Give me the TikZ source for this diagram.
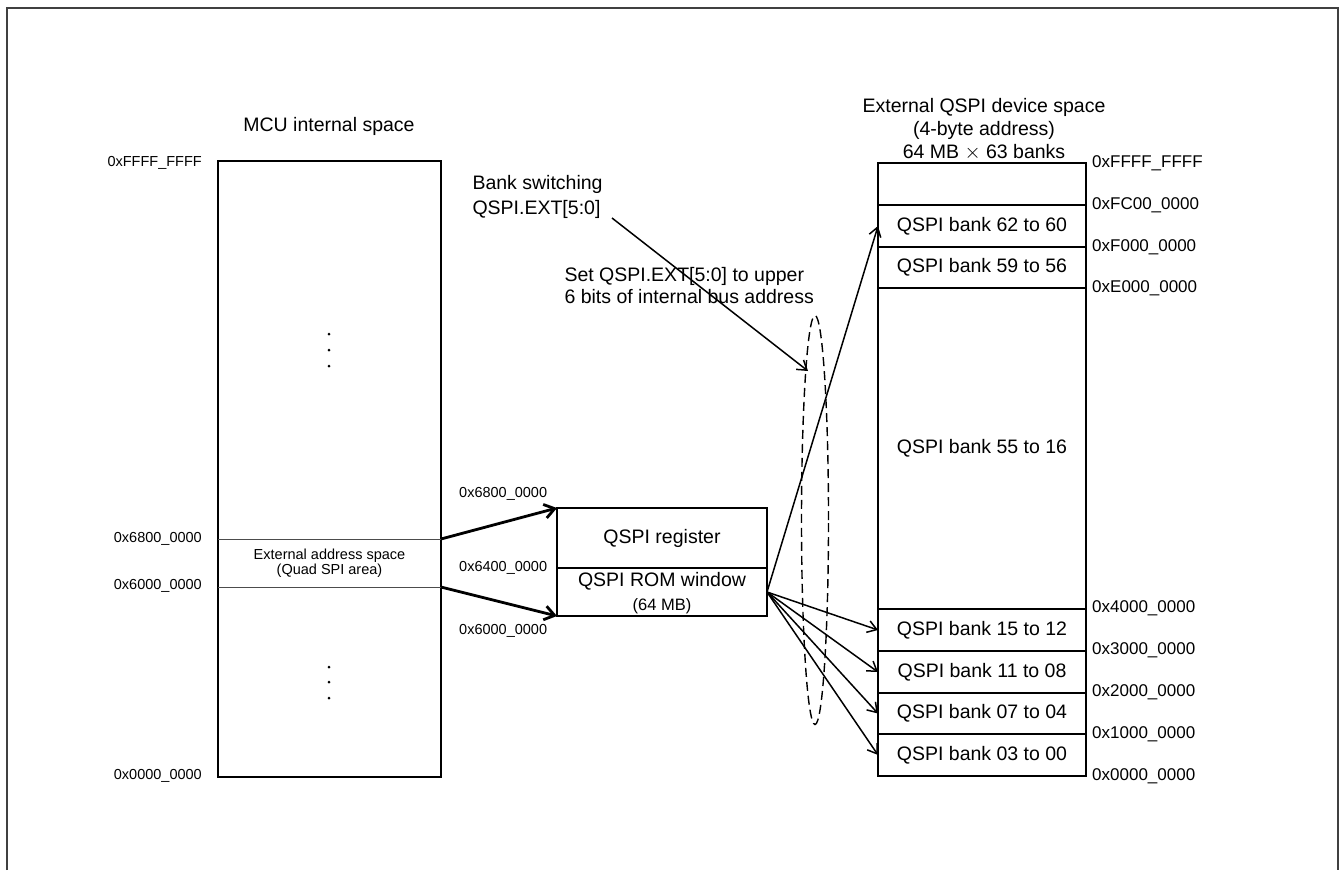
\documentclass[tikz,border=0pt]{standalone}
\usepackage{fontspec}
\setmainfont{Liberation Sans}
\usetikzlibrary{arrows.meta,shapes.geometric}
\begin{document}
\begin{tikzpicture}[x=1pt,y=-1pt,
  box/.style={draw, line width=1.8pt, inner sep=0pt, outer sep=0pt},
  bigtxt/.style={font=\fontsize{19.5}{22}\selectfont},
  addr/.style={font=\fontsize{14.5}{17}\selectfont, inner sep=0pt},
  raddr/.style={font=\fontsize{17}{20}\selectfont, anchor=west, inner sep=0pt},
  bank/.style={box, minimum width=208pt, font=\fontsize{19.5}{22}\selectfont},
  thinarrow/.style={-{Straight Barb[length=9pt,width=12pt]}, line width=1.5pt},
  thickarrow/.style={-{Straight Barb[length=10pt,width=14pt]}, line width=2.8pt},
  divline/.style={line width=1pt, black!70},
  dotmark/.style={fill=black}
]
\useasboundingbox (0,0) rectangle (1340,870);
% frame
\draw[line width=2pt, black!75] (7,870) -- (7,8) -- (1338,8) -- (1338,870);

% MCU internal space
\node[bigtxt] (mcutitle) at (329,126) {MCU internal space};
\node[box, minimum width=223pt, minimum height=616pt] (mcu) at (329.5,469) {};
\node[inner sep=0pt, outer sep=0pt, minimum width=223pt, minimum height=48pt, align=center,
      font=\fontsize{14.5}{15}\selectfont] (ext) at (329.5,563) {External address space\\(Quad SPI area)};
\draw[divline] (ext.north west) -- (ext.north east);
\draw[divline] (ext.south west) -- (ext.south east);
\fill[dotmark] (329,334) circle (1.5) (329,350) circle (1.5) (329,366) circle (1.5);
\fill[dotmark] (329,667) circle (1.5) (329,682) circle (1.5) (329,698) circle (1.5);

\node[addr, anchor=east] (lF) at (202,163) {0xFFFF\_FFFF};
\node[addr, anchor=east] (l68) at (202,539) {0x6800\_0000};
\node[addr, anchor=east] (l60) at (202,586) {0x6000\_0000};
\node[addr, anchor=east] (l00) at (202,776) {0x0000\_0000};

% QSPI register / ROM window
\node[box, minimum width=210pt, minimum height=60pt, bigtxt] (reg) at (662,538) {QSPI register};
\node[box, minimum width=210pt, minimum height=48pt] (rom) at (662,592) {};
\node[bigtxt] (romtxt) at (662,581) {QSPI ROM window};
\node[font=\fontsize{16.5}{19}\selectfont] (romsize) at (662,606) {(64 MB)};
\node[addr, anchor=west] (m68) at (459,494) {0x6800\_0000};
\node[addr, anchor=west] (m64) at (459,568) {0x6400\_0000};
\node[addr, anchor=west] (m60) at (459,631) {0x6000\_0000};

\draw[thickarrow] (ext.north east) -- (reg.north west);
\draw[thickarrow] (ext.south east) -- (rom.south west);

% External QSPI device space
\node[font=\fontsize{19.5}{23}\selectfont, align=center] (exttitle) at (984,129) {External QSPI device space\\(4-byte address)\\64 MB $\times$ 63 banks};
\node[bank, minimum height=42pt] (btop) at (982,184) {};
\node[bank, minimum height=42pt] (b62) at (982,226) {QSPI bank 62 to 60};
\node[bank, minimum height=41pt] (b59) at (982,267.5) {QSPI bank 59 to 56};
\node[bank, minimum height=321pt] (b55) at (982,448.5) {QSPI bank 55 to 16};
\node[bank, minimum height=42pt] (b15) at (982,630) {QSPI bank 15 to 12};
\node[bank, minimum height=42pt] (b11) at (982,672) {QSPI bank 11 to 08};
\node[bank, minimum height=41pt] (b07) at (982,713.5) {QSPI bank 07 to 04};
\node[bank, minimum height=42pt] (b03) at (982,755) {QSPI bank 03 to 00};

\node[raddr] (rFF) at (1092,163) {0xFFFF\_FFFF};
\node[raddr] (rFC) at (1092,205) {0xFC00\_0000};
\node[raddr] (rF0) at (1092,247) {0xF000\_0000};
\node[raddr] (rE0) at (1092,288) {0xE000\_0000};
\node[raddr] (r40) at (1092,608) {0x4000\_0000};
\node[raddr] (r30) at (1092,650) {0x3000\_0000};
\node[raddr] (r20) at (1092,692) {0x2000\_0000};
\node[raddr] (r10) at (1092,734) {0x1000\_0000};
\node[raddr] (r00) at (1092,776) {0x0000\_0000};

% bank switching annotation
\node[bigtxt, align=left, anchor=west, font=\fontsize{19.5}{25}\selectfont] (bs) at (469,197) {Bank switching\\QSPI.EXT[5:0]};
\node[bigtxt, align=left, anchor=west] (settxt) at (561,286) {Set QSPI.EXT[5:0] to upper\\6 bits of internal bus address};
\node[draw, ellipse, dash pattern=on 9pt off 5pt, line width=1.4pt, inner sep=0pt,
      minimum width=27pt, minimum height=409pt] (ell) at (815,520) {};
\coordinate (bsfrom) at (612,218);
\coordinate (bstip) at (808,371);
\draw[thinarrow] (bsfrom) -- (bstip);

% mapping arrows
\draw[thinarrow] (rom.east) -- (b62.west);
\draw[thinarrow] (rom.east) -- (b15.west);
\draw[thinarrow] (rom.east) -- (b11.west);
\draw[thinarrow] (rom.east) -- (b07.west);
\draw[thinarrow] (rom.east) -- (b03.west);
\end{tikzpicture}
\end{document}
